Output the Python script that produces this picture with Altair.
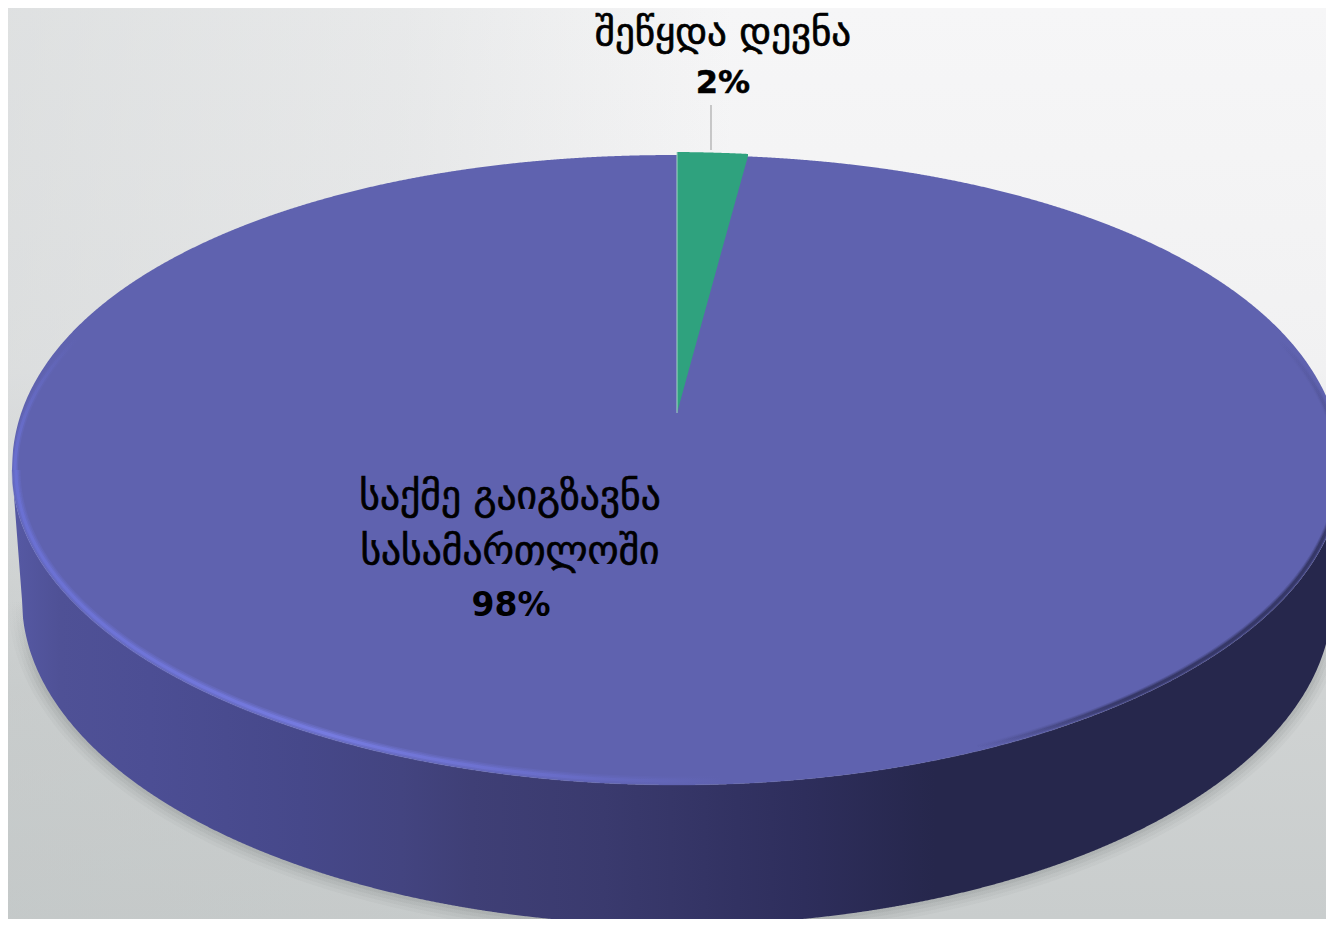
import math

import altair as alt
import pandas as pd

# data
shares = [98.3, 1.7]
label_lines = ["შეწყდა დევნა", "2%", "საქმე გაიგზავნა", "სასამართლოში", "98%"]
label_x = [723, 723, 510, 510, 511]
label_y = [33, 83, 497, 552, 606]
label_size = [39, 32, 39.5, 39.5, 33]
label_weight = ["normal", "bold", "normal", "normal", "bold"]
label_stroke = [0.7, 0.5, 0.7, 0.7, 0]

W, H = 1318, 911
CX, CY, RX, RY = 677, 470, 665, 315       # top face
BCY, BRX, BRY = 600, 655, 325             # lower rim
APEX_Y = 413
XS = alt.Scale(domain=[8, 1326], range=[0, W], nice=False, zero=False)
YS = alt.Scale(domain=[919, 8], range=[H, 0], nice=False, zero=False)
X = lambda f="x": alt.X(f"{f}:Q", scale=XS, axis=None)
Y = lambda f="y": alt.Y(f"{f}:Q", scale=YS, axis=None)
Y2 = lambda f: alt.Y2(f"{f}:Q")


def grad(stops, x1=0, y1=0, x2=1, y2=0):
    return alt.Gradient(gradient="linear", x1=x1, y1=y1, x2=x2, y2=y2,
                        stops=[alt.GradientStop(offset=o, color=c) for o, c in stops])


xs = alt.sequence(start=CX - RX, stop=CX + RX + 0.5, step=1.0, as_="x")
top = f"{CY}-{RY}*pow(max(0,1-pow(abs(datum.x-{CX})/{RX},2.08)),1/2.08)"
bot = f"{CY}+{RY}*sqrt(max(0,1-pow((datum.x-{CX})/{RX},2)))"
low = (f"abs(datum.x-{CX})<{BRX}?{BCY}+{BRY}*sqrt(1-pow((datum.x-{CX})/{BRX},2))"
       f":{CY}+({BCY}-{CY})*({RX}-abs(datum.x-{CX}))/({RX}-{BRX})")

one = pd.DataFrame({"a": [0]})
background = alt.Chart(one).mark_rect(
    fill=grad([(0, "#f6f6f7"), (0.4, "#f1f1f2"), (0.62, "#dcdede"), (0.75, "#d0d3d3"), (1, "#c9cdcd")],
              x1=0, y1=0, x2=0, y2=1)
).encode(x=alt.value(0), x2=alt.value(W), y=alt.value(0), y2=alt.value(H))
background2 = alt.Chart(one).mark_rect(
    fill=grad([(0, "rgba(190,195,195,0.42)"), (0.3, "rgba(190,195,195,0.25)"), (0.55, "rgba(190,195,195,0)"),
               (1, "rgba(190,195,195,0)")])
).encode(x=alt.value(0), x2=alt.value(W), y=alt.value(0), y2=alt.value(H))

lowline = alt.Chart(alt.sequence(start=CX - BRX, stop=CX + BRX + 0.5, step=2.0, as_="x")).transform_calculate(
    y=low)
shadow_fade = grad([(0, "rgba(135,140,140,0)"), (0.25, "rgba(135,140,140,1)"), (1, "rgba(135,140,140,1)")],
                   x1=0, y1=0, x2=0, y2=1)
shadows = [
    lowline.mark_line(stroke=shadow_fade, strokeWidth=w, opacity=o).encode(x=X(), y=Y(), order="x:Q")
    for w, o in [(28, 0.08), (21, 0.1), (14, 0.14), (7, 0.18)]
]

side = alt.Chart(xs).transform_calculate(y=bot, y2=low).mark_area(
    fill=grad([(0, "#5659a4"), (0.036, "#4f5196"), (0.104, "#4c4e94"), (0.218, "#46488a"),
               (0.293, "#434480"), (0.346, "#3f3f76"), (0.445, "#3a3a6e"), (0.596, "#2e2e5c"),
               (0.694, "#26274c"), (1, "#26274c")])
).encode(x=X(), y=Y(), y2=Y2("y2"))

face = alt.Chart(xs).transform_calculate(y=top, y2=bot).mark_area(fill="#5f62af").encode(
    x=X(), y=Y(), y2=Y2("y2"))


def arc(start, stop, inset):
    return alt.Chart(alt.sequence(start=start, stop=stop, step=1, as_="t")).transform_calculate(
        x=f"{CX}+{RX - inset}*cos(datum.t*PI/180)",
        y=f"{CY}+{RY - inset}*sin(datum.t*PI/180)",
    )


rim_stops = [(0, "#6a70d2"), (0.3, "#767be0"), (0.5, "#6a6ecb"), (0.68, "#5f62af"), (1, "#5f62af")]
rims = [
    arc(55, 181, 4).mark_line(stroke=grad(rim_stops), strokeWidth=w, opacity=o).encode(
        x=X(), y=Y(), order="t:Q")
    for w, o in [(9, 0.3), (6, 0.45), (3, 1)]
]
rim_top_fade = grad([(0, "rgba(106,112,210,0)"), (1, "rgba(106,112,210,1)")], x1=0, y1=0, x2=0, y2=1)
rims_top = [
    arc(180, 206, 3).mark_line(stroke=rim_top_fade, strokeWidth=w, opacity=o).encode(
        x=X(), y=Y(), order="t:Q")
    for w, o in [(6, 0.4), (3, 0.9)]
]

dark_fade = grad([(0, "rgba(38,39,76,0)"), (0.3, "rgba(38,39,76,0.35)"), (0.5, "rgba(38,39,76,1)"),
                  (0.88, "rgba(38,39,76,1)"), (1, "rgba(38,39,76,0)")], x1=0, y1=0, x2=0, y2=1)
darks = [
    arc(-25, 64, 3).mark_line(stroke=dark_fade, strokeWidth=w, opacity=o).encode(x=X(), y=Y(), order="t:Q")
    for w, o in [(7, 0.2), (5, 0.3), (3, 0.5)]
]

wedge_dx = RX * math.sin(2 * math.pi * shares[1] / 100)
wx = alt.sequence(start=CX, stop=CX + wedge_dx + 0.5, step=1.0, as_="x")
wedge = alt.Chart(wx).transform_calculate(
    y=f"{top}-3+0.5*(datum.x-{CX})/{wedge_dx}",
    y2=f"{APEX_Y}+({top}-{APEX_Y})*(datum.x-{CX})/{wedge_dx}",
).mark_area(fill="#2fa27e").encode(x=X(), y=Y(), y2=Y2("y2"))

edge_df = pd.DataFrame({"x": [CX], "y": [CY - RY - 3], "y2": [APEX_Y]})
edge = alt.Chart(edge_df).mark_rule(stroke="#a8d5c6", strokeWidth=1).encode(x=X(), y=Y(), y2=Y2("y2"))

leader_df = pd.DataFrame({"x": [711], "y": [105], "y2": [150]})
leader = alt.Chart(leader_df).mark_rule(stroke="#a9a9a9", strokeWidth=1.2).encode(x=X(), y=Y(), y2=Y2("y2"))

texts = []
for t, x, y, s, w, k in zip(label_lines, label_x, label_y, label_size, label_weight, label_stroke):
    texts.append(
        alt.Chart(pd.DataFrame({"t": [t], "x": [x], "y": [y]})).mark_text(
            font="DejaVu Sans", fontSize=s, fontWeight=w, color="#000000", stroke="#000000", strokeWidth=k,
            align="center", baseline="middle"
        ).encode(x=X(), y=Y(), text="t:N")
    )

chart = alt.layer(
    background, background2, *shadows, side, face, *rims, *rims_top, *darks, wedge, edge, leader, *texts
).properties(
    width=W, height=H, padding=0, autosize=alt.AutoSizeParams(type="none"),
).configure_view(stroke=None)

chart.save("out.html", embed_options={"renderer": "svg", "actions": False})
